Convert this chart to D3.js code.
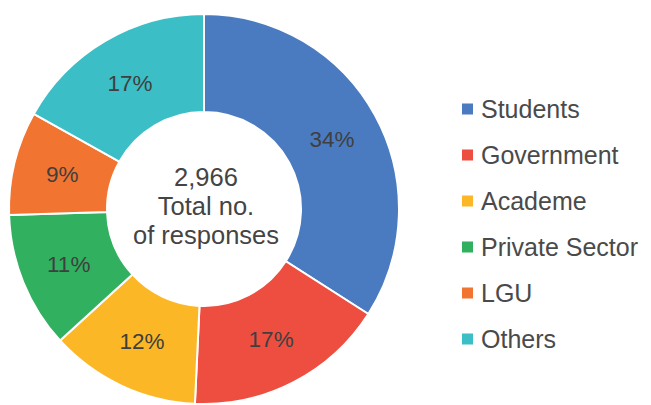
<!DOCTYPE html>
<html>
<head>
<meta charset="utf-8">
<script src="https://cdn.jsdelivr.net/npm/d3@7"></script>
<style>
  body { margin: 0; background: #fff; }
  text { font-family: "Liberation Sans", Arial, sans-serif; }
</style>
</head>
<body>
<div id="viz-container"></div>
<script>
let width = 651;
let height = 405;

// chart data
let categories = ['Students', 'Government', 'Academe', 'Private Sector', 'LGU', 'Others'];
let responses = [1010, 495, 370, 335, 255, 501];
let colors = ['#4a7bc1', '#ee4e3f', '#fbb726', '#31b05f', '#f17430', '#3bbec6'];
let centerLines = ['2,966', 'Total no.', 'of responses'];

let cx = 204;
let cy = 209;
let outerR = 195;
let innerR = 97;

let viz = d3.select('#viz-container')
  .append('svg')
  .attr('width', width)
  .attr('height', height);

let total = d3.sum(responses);

let pie = d3.pie().sort(null).value(d => d.value);
let data = categories.map((c, i) => ({name: c, value: responses[i], color: colors[i]}));
let arcs = pie(data);

let arc = d3.arc().innerRadius(innerR).outerRadius(outerR);
let labelArc = d3.arc().innerRadius((innerR + outerR) / 2).outerRadius((innerR + outerR) / 2);

let g = viz.append('g').attr('transform', 'translate(' + cx + ',' + cy + ')');

g.selectAll('.slice').data(arcs).enter()
  .append('path')
  .attr('class', 'slice')
  .attr('d', arc)
  .attr('fill', d => d.data.color)
  .attr('stroke', '#fff')
  .attr('stroke-width', 2);

g.selectAll('.pct').data(arcs).enter()
  .append('text')
  .attr('class', 'pct')
  .attr('transform', d => 'translate(' + labelArc.centroid(d) + ')')
  .attr('text-anchor', 'middle')
  .attr('dy', '0.36em')
  .attr('font-size', 22.5)
  .attr('fill', '#3f3f3f')
  .text(d => Math.round(d.data.value / total * 100) + '%');

g.selectAll('.center').data(centerLines).enter()
  .append('text')
  .attr('class', 'center')
  .attr('x', 2)
  .attr('y', (d, i) => -23 + i * 29)
  .attr('text-anchor', 'middle')
  .attr('font-size', 25.5)
  .attr('fill', '#444')
  .text(d => d);

// legend
let legendY = d3.scalePoint().domain(categories).range([109, 339]);

let legend = viz.selectAll('.legend').data(data).enter()
  .append('g')
  .attr('class', 'legend')
  .attr('transform', d => 'translate(462,' + legendY(d.name) + ')');

legend.append('rect')
  .attr('x', 0)
  .attr('y', -5.5)
  .attr('width', 11)
  .attr('height', 11)
  .attr('fill', d => d.color);

legend.append('text')
  .attr('x', 19)
  .attr('dy', '0.36em')
  .attr('font-size', 25)
  .attr('fill', '#4a4a4a')
  .text(d => d.name);
</script>
</body>
</html>
